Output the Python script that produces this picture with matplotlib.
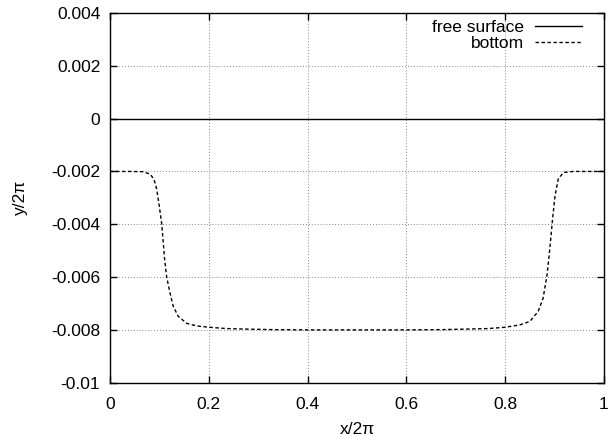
import matplotlib
matplotlib.use("Agg")
import matplotlib.pyplot as plt

plt.rcParams["font.family"] = ["Liberation Sans", "DejaVu Sans"]
plt.rcParams["axes.unicode_minus"] = False

# values
free_x = [0.0, 1.0]
free_y = [0.0, 0.0]

bottom_x = [0.0, 0.04, 0.067, 0.081, 0.089, 0.0945, 0.0998, 0.1047, 0.1079,
            0.1107, 0.1148, 0.1215, 0.1281, 0.1383, 0.1553, 0.1755, 0.201,
            0.236, 0.277, 0.33, 0.4, 0.5,
            0.6, 0.67, 0.72, 0.765, 0.80, 0.83, 0.85, 0.867, 0.877, 0.885,
            0.891, 0.896, 0.901, 0.9075, 0.918, 0.938, 1.0]
bottom_y = [-0.0020, -0.0020, -0.00201, -0.00210, -0.00229, -0.00267, -0.00331,
            -0.00398, -0.00470, -0.00534, -0.00600, -0.00660, -0.00711,
            -0.00749, -0.00775, -0.00785, -0.00790, -0.00795, -0.00797,
            -0.00799, -0.0080, -0.0080,
            -0.0080, -0.00799, -0.00797, -0.00795, -0.00790, -0.00781,
            -0.00768, -0.0073, -0.00679, -0.0059, -0.00483, -0.00381,
            -0.00293, -0.00229, -0.00204, -0.0020, -0.0020]

x_ticks = [0, 0.2, 0.4, 0.6, 0.8, 1.0]
x_labels = ["0", "0.2", "0.4", "0.6", "0.8", "1"]
y_ticks = [-0.01, -0.008, -0.006, -0.004, -0.002, 0, 0.002, 0.004]
y_labels = ["-0.01", "-0.008", "-0.006", "-0.004", "-0.002", "0", "0.002", "0.004"]

fs = 12.5
fig = plt.figure(figsize=(6.1, 4.36), dpi=100)
ax = fig.add_axes([0.1803, 0.1222, 0.8097, 0.848])

ax.plot(free_x, free_y, color="black", lw=1.0, label="free surface", zorder=3)
ax.plot(bottom_x, bottom_y, color="black", lw=1.0, ls=(0, (2.5, 1.8)),
        label="bottom", zorder=3)

ax.set_xlim(0, 1)
ax.set_ylim(-0.01, 0.004)
ax.set_xticks(x_ticks)
ax.set_xticklabels(x_labels, fontsize=fs)
ax.set_yticks(y_ticks)
ax.set_yticklabels(y_labels, fontsize=fs)
ax.tick_params(direction="in", length=5, width=1, top=True, right=True)
ax.tick_params(axis="x", pad=10.5)
ax.tick_params(axis="y", pad=7)
ax.grid(True, color="#888888", ls=(0, (1, 2)), lw=0.7)
for s in ax.spines.values():
    s.set_linewidth(1.0)

ax.set_xlabel("x/2\u03c0", fontsize=fs, labelpad=7)
ax.set_ylabel("y/2\u03c0", fontsize=fs, labelpad=17)

leg = ax.legend(loc="upper right", bbox_to_anchor=(0.955, 0.982),
                frameon=False, markerfirst=False, fontsize=fs,
                handlelength=2.7, handletextpad=0.6, labelspacing=0.05,
                borderaxespad=0, borderpad=0)

fig.savefig("out.png", dpi=100)
